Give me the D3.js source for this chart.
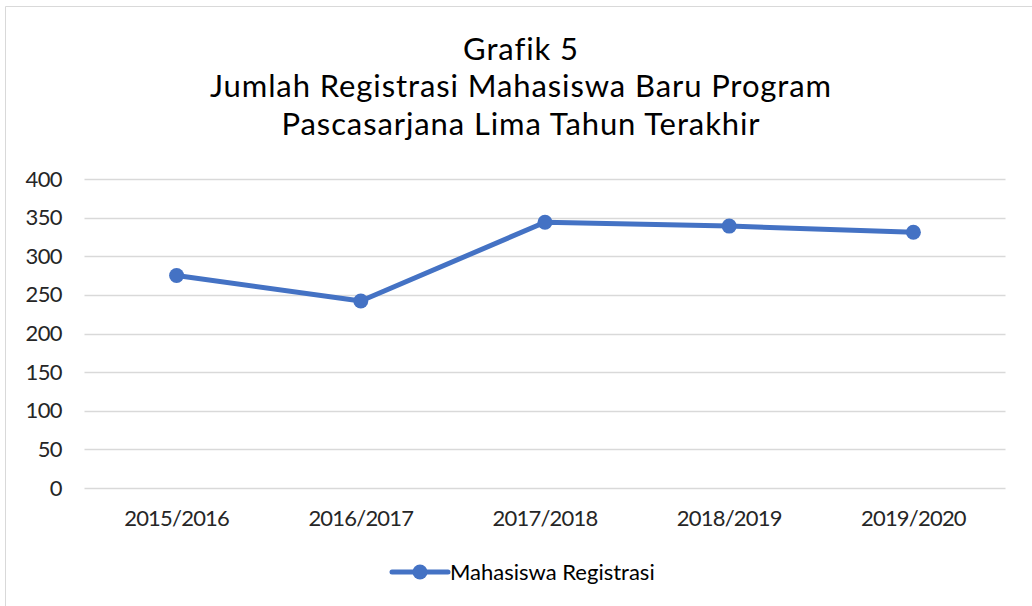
<!DOCTYPE html>
<html><head><meta charset="utf-8">
<script src="https://cdn.jsdelivr.net/npm/d3@7"></script>
<style>body{margin:0;background:#fff;} svg{display:block;}</style>
</head><body>
<svg id="c" width="1032" height="606"></svg>
<script>
const categories = ["2015/2016","2016/2017","2017/2018","2018/2019","2019/2020"];
const values = [275, 242, 344, 339, 331];
const yTicks = [0,50,100,150,200,250,300,350,400];
const titleLines = ["Grafik 5","Jumlah Registrasi Mahasiswa Baru Program","Pascasarjana Lima Tahun Terakhir"];
const seriesName = "Mahasiswa Registrasi";

(function(){
const svg = d3.select("#c");
const font = "Lato, 'Open Sans', sans-serif";
const color = "#4472c4";

// chart border
svg.append("path").attr("d","M5.5,606 L5.5,6.5 L1032,6.5").attr("fill","none").attr("stroke","#d9d9d9").attr("stroke-width",1);

const pLeft = 84.5, pRight = 1005.5, pTop = 179, pBottom = 488;
const x = d3.scaleBand().domain(categories).range([pLeft, pRight]);
const y = d3.scaleLinear().domain([0,400]).range([pBottom, pTop]);

// title
svg.append("text").attr("text-anchor","middle").attr("font-family",font).attr("font-size",31).attr("letter-spacing",0.9).attr("fill","#000")
  .selectAll("tspan").data(titleLines).join("tspan").attr("x",521).attr("y",(d,i)=>59.5+i*37.5).text(d=>d);

// gridlines
svg.append("g").selectAll("line").data(yTicks).join("line")
  .attr("x1",pLeft).attr("x2",pRight).attr("y1",d=>Math.round(y(d))+0.5).attr("y2",d=>Math.round(y(d))+0.5)
  .attr("stroke","#d9d9d9").attr("stroke-width",1.5);

// y axis labels
const yAxis = d3.axisLeft(y).tickValues(yTicks).tickSize(0).tickPadding(0);
const gy = svg.append("g").attr("transform","translate(62,0)").call(yAxis);
gy.select(".domain").remove();
gy.selectAll("text").attr("font-family",font).attr("font-size",22).attr("letter-spacing",-0.6).attr("fill","#262626");

// x axis labels
const xAxis = d3.axisBottom(x).tickSize(0).tickPadding(0);
const gx = svg.append("g").attr("transform","translate(0,510)").call(xAxis);
gx.select(".domain").remove();
gx.selectAll("text").attr("font-family",font).attr("font-size",22).attr("letter-spacing",-0.8).attr("fill","#262626").attr("dy","0.71em");

// line
const cx = d => x(d) + x.bandwidth()/2;
const data = categories.map((c,i)=>({c, v: values[i]}));
svg.append("path").datum(data).attr("fill","none").attr("stroke",color).attr("stroke-width",5).attr("stroke-linejoin","round")
  .attr("d", d3.line().x(d=>cx(d.c)).y(d=>y(d.v)));
svg.append("g").selectAll("circle").data(data).join("circle")
  .attr("cx",d=>cx(d.c)).attr("cy",d=>y(d.v)).attr("r",7.5).attr("fill",color);

// legend
const lg = svg.append("g").attr("transform","translate(0,572)");
lg.append("line").attr("x1",392).attr("x2",448).attr("y1",0).attr("y2",0).attr("stroke",color).attr("stroke-width",5).attr("stroke-linecap","round");
lg.append("circle").attr("cx",420).attr("cy",0).attr("r",7.5).attr("fill",color);
lg.append("text").attr("x",450).attr("y",0).attr("dy","0.35em").attr("font-family",font).attr("font-size",22).attr("fill","#000").text(seriesName);
})();
</script>
</body></html>
